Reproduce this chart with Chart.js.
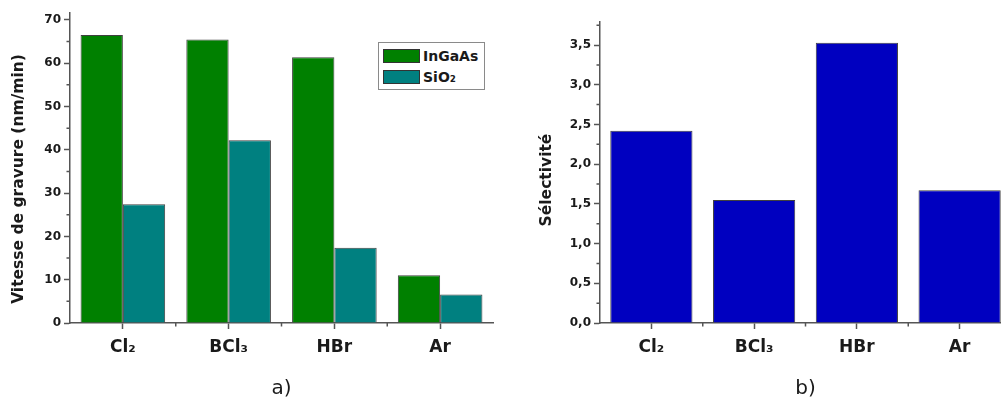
<!DOCTYPE html>
<html>
<head>
<meta charset="utf-8">
<script src="https://cdn.jsdelivr.net/npm/chart.js@4/dist/chart.umd.min.js"></script>
<style>
    html, body { margin: 0; padding: 0; overflow: hidden; background: #fff; }
    body { position: relative; width: 1001px; height: 401px; font-family: "DejaVu Sans", sans-serif; }
    #rateCanvas { position: absolute; left: 0; top: 0; }
    #selCanvas { position: absolute; left: 500px; top: 0; }
    #legend { position: absolute; left: 378px; top: 42px; width: 105px; height: 46px; border: 1px solid #8a8a8a; background: #fff; }
    .item { position: absolute; left: 4px; display: flex; align-items: center; font: bold 14px "DejaVu Sans"; color: #1a1a1a; }
    .swatch { width: 37px; height: 14px; border: 1px solid #333; box-sizing: border-box; margin-right: 3px; }
</style>
</head>
<body>
<canvas id="rateCanvas" width="500" height="401"></canvas>
<canvas id="selCanvas" width="520" height="401"></canvas>
<div id="legend"></div>
<script>
    const categories = ['Cl₂', 'BCl₃', 'HBr', 'Ar']
    const seriesNames = ['InGaAs', 'SiO₂']
    const ingaasRate = [66.5, 65.5, 61.4, 11.0]
    const sio2Rate = [27.4, 42.2, 17.4, 6.6]
    const selectivity = [2.42, 1.55, 3.53, 1.67]
    const rateTicks = [0, 10, 20, 30, 40, 50, 60, 70]
    const selectivityTicks = [0, 0.5, 1.0, 1.5, 2.0, 2.5, 3.0, 3.5]

    const FONT = '"DejaVu Sans", sans-serif'
    const AXIS = '#555'
    const TEXT = '#1a1a1a'
    const seriesColors = ['#008000', '#008080']
    const selColor = '#0000c0'

    // Origin-style extras: minor ticks and the rotated value-axis title
    const originAxes = {
        id: 'originAxes',
        afterDraw(chart, args, opts) {
            const { ctx } = chart
            const x = chart.scales.x
            const y = chart.scales.y
            const t = y.ticks.map(k => k.value)
            const step = t[1] - t[0]
            ctx.save()
            ctx.strokeStyle = AXIS
            ctx.lineWidth = 1.5
            ctx.beginPath()
            for (let v = t[0] + step / 2; v <= y.max; v += step) {
                const py = y.getPixelForValue(v)
                ctx.moveTo(y.right, py)
                ctx.lineTo(y.right - 3.5, py)
            }
            for (let i = 0; i < categories.length - 1; i++) {
                const px = x.getPixelForValue(i + 0.5)
                ctx.moveTo(px, x.top)
                ctx.lineTo(px, x.top + 3.5)
            }
            ctx.stroke()
            ctx.translate(opts.x, opts.y)
            ctx.rotate(-Math.PI / 2)
            ctx.font = `bold 15.5px ${FONT}`
            ctx.fillStyle = TEXT
            ctx.textAlign = 'center'
            ctx.textBaseline = 'middle'
            ctx.fillText(opts.text, 0, 0)
            ctx.restore()
        }
    }

    function makeOptions(o) {
        return {
            responsive: false,
            animation: false,
            layout: { padding: { left: 0, right: o.padRight, top: o.padTop, bottom: 0 } },
            plugins: {
                legend: { display: false },
                tooltip: { enabled: false },
                originAxes: { text: o.yTitle, x: o.yTitleX, y: o.yTitleY }
            },
            scales: {
                x: {
                    offset: true,
                    afterFit: (s) => { s.height = o.xHeight },
                    border: { color: AXIS, width: 1.5 },
                    grid: { offset: false, drawOnChartArea: false, tickLength: 6, tickColor: AXIS, tickWidth: 1.5 },
                    ticks: { color: TEXT, padding: 8, maxRotation: 0, font: { family: FONT, size: 17, weight: 'bold' } },
                    title: { display: true, text: o.panel, color: TEXT, padding: { top: 0, bottom: 0 }, font: { family: FONT, size: 20 } }
                },
                y: {
                    min: 0,
                    max: o.yMax,
                    afterFit: (s) => { s.width = o.yWidth },
                    afterBuildTicks: (s) => { s.ticks = o.ticks.map(v => ({ value: v })) },
                    border: { color: AXIS, width: 1.5 },
                    grid: { drawOnChartArea: false, tickLength: 6, tickColor: AXIS, tickWidth: 1.5 },
                    ticks: { color: TEXT, padding: 3, font: { family: FONT, size: 12, weight: 'bold' }, callback: o.fmt }
                }
            }
        }
    }

    new Chart(document.getElementById('rateCanvas'), {
        type: 'bar',
        data: {
            labels: categories,
            datasets: [ingaasRate, sio2Rate].map((d, i) => ({
                label: seriesNames[i],
                data: d,
                backgroundColor: seriesColors[i],
                borderColor: '#404040',
                borderWidth: 1,
                categoryPercentage: 0.8,
                barPercentage: 1.0
            }))
        },
        options: makeOptions({
            padRight: 7, padTop: 13, xHeight: 78, yWidth: 70, yMax: 71.6, ticks: rateTicks,
            fmt: (v) => String(v),
            yTitle: 'Vitesse de gravure (nm/min)', yTitleX: 19, yTitleY: 179, panel: 'a)'
        }),
        plugins: [originAxes]
    })

    new Chart(document.getElementById('selCanvas'), {
        type: 'bar',
        data: {
            labels: categories,
            datasets: [{
                label: 'Sélectivité',
                data: selectivity,
                backgroundColor: selColor,
                borderColor: '#404040',
                borderWidth: 1,
                categoryPercentage: 0.8,
                barPercentage: 1.0
            }]
        },
        options: makeOptions({
            padRight: 9, padTop: 22, xHeight: 78, yWidth: 100, yMax: 3.79, ticks: selectivityTicks,
            fmt: (v) => v.toFixed(1).replace('.', ','),
            yTitle: 'Sélectivité', yTitleX: 47, yTitleY: 180, panel: 'b)'
        }),
        plugins: [originAxes]
    })

    const legend = document.getElementById('legend')
    const rowTops = [5, 26]
    seriesNames.forEach((name, i) => {
        const item = document.createElement('div')
        item.className = 'item'
        item.style.top = rowTops[i] + 'px'
        item.innerHTML = `<span class="swatch" style="background:${seriesColors[i]}"></span><span>${name}</span>`
        legend.appendChild(item)
    })
</script>
</body>
</html>
